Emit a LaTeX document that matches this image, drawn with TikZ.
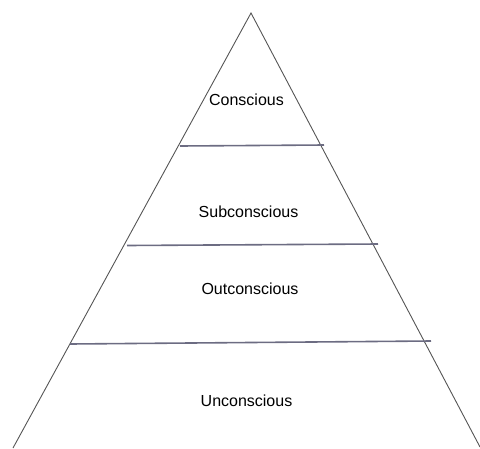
\documentclass[tikz,border=0pt]{standalone}
\usepackage{fontspec}
\setmainfont{Liberation Sans}
\usetikzlibrary{positioning}

\definecolor{edgegray}{HTML}{555555}
\definecolor{bandline}{HTML}{6C6C82}

\begin{document}
\begin{tikzpicture}[
		x=1pt, y=-1pt,
		every node/.style={font=\fontsize{16}{19}\selectfont, inner sep=0pt},
		sideline/.style={draw=edgegray, line width=0.9pt},
		bandsep/.style={draw=bandline, line width=1.6pt},
		]
		\useasboundingbox (0,0) rectangle (480,448);
		
		% Pyramid corners
		\coordinate (apex) at (251,13);
		\coordinate (baseleft) at (13,448);
		\coordinate (baseright) at (480,447);
		
		% Pyramid outline
		\draw[sideline] (baseleft) -- (apex) -- (baseright);
		
		% Band separators
		\coordinate (sepAl) at (180,146);
		\coordinate (sepAr) at (324,145);
		\coordinate (sepBl) at (127,245.5);
		\coordinate (sepBr) at (378,244);
		\coordinate (sepCl) at (70,344);
		\coordinate (sepCr) at (431,341);
		\draw[bandsep] (sepAl) -- (sepAr);
		\draw[bandsep] (sepBl) -- (sepBr);
		\draw[bandsep] (sepCl) -- (sepCr);
		
		% Labels
		\node (conscious) at (246.5,99.5) {Conscious};
		\node (subconscious) at (248.5,212) {Subconscious};
		\node (outconscious) at (250,288.5) {Outconscious};
		\node (unconscious) at (246.5,401) {Unconscious};
		
	\end{tikzpicture}
\end{document}
